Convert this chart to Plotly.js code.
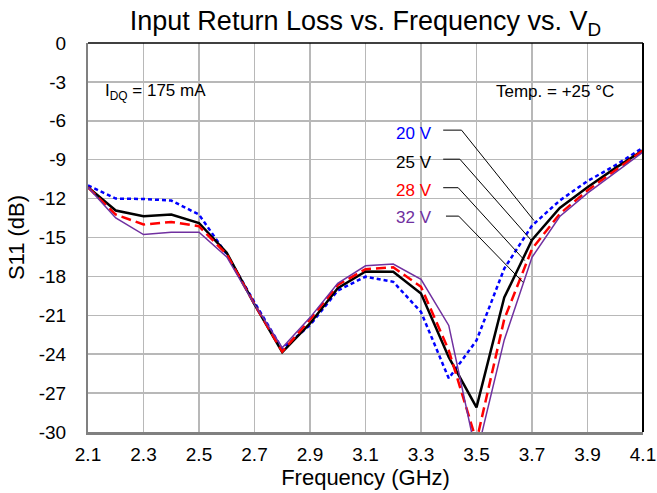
<!DOCTYPE html>
<html>
<head>
<meta charset="utf-8">
<script src="https://cdn.plot.ly/plotly-3.0.1.min.js"></script>
<style>html,body{margin:0;padding:0;background:#fff;}#chart{width:657px;height:493px;}</style>
</head>
<body>
<div id="chart"></div>
<script>
const freqGHz = [2.1, 2.2, 2.3, 2.4, 2.5, 2.6, 2.7, 2.8, 2.9, 3.0, 3.1, 3.2, 3.3, 3.4, 3.5, 3.6, 3.7, 3.8, 3.9, 4.0, 4.1];
const s11_20V = [-10.98, -12.0, -12.03, -12.15, -13.23, -16.3, -20.0, -23.6, -21.76, -19.09, -18.02, -18.42, -20.74, -25.86, -22.94, -17.4, -14.08, -12.15, -10.65, -9.44, -8.07];
const s11_25V = [-11.13, -12.92, -13.36, -13.23, -13.88, -16.18, -20.15, -23.85, -21.63, -18.91, -17.62, -17.64, -19.32, -24.23, -28.1, -19.63, -15.19, -12.72, -11.12, -9.65, -8.28];
const s11_28V = [-11.13, -13.23, -14.0, -13.8, -14.13, -16.3, -20.15, -23.8, -21.33, -18.66, -17.44, -17.3, -18.8, -23.7, -30.7, -21.3, -15.88, -13.18, -11.37, -9.83, -8.28];
const s11_32V = [-11.13, -13.49, -14.77, -14.6, -14.6, -16.5, -20.15, -23.5, -21.18, -18.53, -17.18, -17.05, -18.23, -21.78, -31.8, -22.9, -16.53, -13.38, -11.58, -9.96, -8.41];
const seriesNames = ["20 V", "25 V", "28 V", "32 V"];
const yTickVals = [0, -3, -6, -9, -12, -15, -18, -21, -24, -27, -30];
const yTickText = ["0", "-3", "-6", "-9", "-12", "-15", "-18", "-21", "-24", "-27", "-30"];
const xTickVals = [2.1, 2.3, 2.5, 2.7, 2.9, 3.1, 3.3, 3.5, 3.7, 3.9, 4.1];
const xTickText = ["2.1", "2.3", "2.5", "2.7", "2.9", "3.1", "3.3", "3.5", "3.7", "3.9", "4.1"];

const FONT = "Liberation Sans, Arial, sans-serif";
const colors = ["#0000ff", "#000000", "#ff0000", "#7030a0"];
const dashes = ["4px,3px", "solid", "10px,5px", "solid"];
const widths = [2.5, 2.5, 2.5, 1.5];
const ys = [s11_20V, s11_25V, s11_28V, s11_32V];

const traces = ys.map((y, i) => ({
  x: freqGHz, y: y, type: "scatter", mode: "lines", name: seriesNames[i],
  line: {color: colors[i], width: widths[i], dash: dashes[i]}
}));

// leader-line geometry (label side, elbow, target) in data coords
const leaders = [
  [[3.380, -6.72], [3.446, -6.72], [3.707, -13.69]],
  [[3.380, -8.96], [3.440, -8.96], [3.698, -15.23]],
  [[3.380, -11.16], [3.434, -11.16], [3.674, -16.78]],
  [[3.390, -13.35], [3.436, -13.35], [3.668, -18.46]]
];
const shapes = [];
shapes.push({type: "rect", xref: "x domain", yref: "paper", x0: 0.003, x1: 0.255, y0: 1 - 73/493, y1: 1 - 44/493, fillcolor: "#ffffff", line: {width: 0}, layer: "between"});
shapes.push({type: "rect", xref: "x domain", yref: "paper", x0: 0.715, x1: 0.997, y0: 1 - 73/493, y1: 1 - 44/493, fillcolor: "#ffffff", line: {width: 0}, layer: "between"});
shapes.push({type: "rect", xref: "paper", yref: "paper", x0: 389/657, x1: 443/657, y0: 1 - 233/493, y1: 1 - 117/493, fillcolor: "#ffffff", line: {width: 0}, layer: "between"});
leaders.forEach(l => {
  shapes.push({type: "line", xref: "x", yref: "y", x0: l[0][0], y0: l[0][1], x1: l[1][0], y1: l[1][1], line: {color: "#000", width: 1}});
  shapes.push({type: "line", xref: "x", yref: "y", x0: l[1][0], y0: l[1][1], x1: l[2][0], y1: l[2][1], line: {color: "#000", width: 1}});
});
shapes.push({type: "line", xref: "x domain", yref: "y domain", x0: 0, x1: 1, y0: 1, y1: 1, line: {color: "#000", width: 1.5}});
shapes.push({type: "line", xref: "x domain", yref: "y domain", x0: 1, x1: 1, y0: 0, y1: 1, line: {color: "#000", width: 2}});

const labelY = [-6.98, -9.22, -11.4, -13.47];
const annotations = seriesNames.map((n, i) => ({
  x: 3.276, y: labelY[i], xref: "x", yref: "y", text: n, showarrow: false,
  font: {family: FONT, size: 17, color: colors[i]}, xanchor: "center", yanchor: "middle"
}));
annotations.push({xref: "paper", yref: "paper", x: 105/657 - 87.5/657, xanchor: "left", y: 1 - 62/493, yanchor: "middle",
  text: "I<sub>DQ</sub> = 175 mA", showarrow: false, font: {family: FONT, size: 17, color: "#000"}});
annotations.push({xref: "paper", yref: "paper", x: 625/657, xanchor: "right", y: 1 - 62/493, yanchor: "middle",
  text: "Temp. = +25 °C", showarrow: false, font: {family: FONT, size: 17, color: "#000"}});

const layout = {
  width: 657, height: 493,
  margin: {l: 87.5, r: 13.5, t: 43, b: 61.3, pad: 0},
  paper_bgcolor: "#fff", plot_bgcolor: "#fff",
  showlegend: false,
  font: {family: FONT, color: "#000"},
  title: {text: "Input Return Loss vs. Frequency vs. V<sub>D</sub>", font: {family: FONT, size: 27, color: "#000"},
    xref: "paper", x: 0.5, xanchor: "center", yref: "container", y: 1 - 21/493, yanchor: "middle"},
  xaxis: {range: [2.1, 4.1], tickvals: xTickVals, ticktext: xTickText, showgrid: true, gridcolor: "#b8b8b8", gridwidth: 1.5,
    showline: true, linecolor: "#808080", linewidth: 2.5, ticks: "", zeroline: false, ticklabelstandoff: 4,
    tickfont: {family: FONT, size: 19, color: "#000"},
    title: {text: "Frequency (GHz)", font: {family: FONT, size: 22, color: "#000"}, standoff: 6}},
  yaxis: {range: [-30, 0], tickvals: yTickVals, ticktext: yTickText, showgrid: true, gridcolor: "#b8b8b8", gridwidth: 1.5,
    showline: true, linecolor: "#808080", linewidth: 2, ticks: "", zeroline: false, ticklabelstandoff: 16,
    tickfont: {family: FONT, size: 19, color: "#000"},
    title: {text: "S11 (dB)", font: {family: FONT, size: 22, color: "#000"}, standoff: 8}},
  shapes: shapes,
  annotations: annotations
};
Plotly.newPlot("chart", traces, layout, {staticPlot: true, displayModeBar: false});
</script>
</body>
</html>
